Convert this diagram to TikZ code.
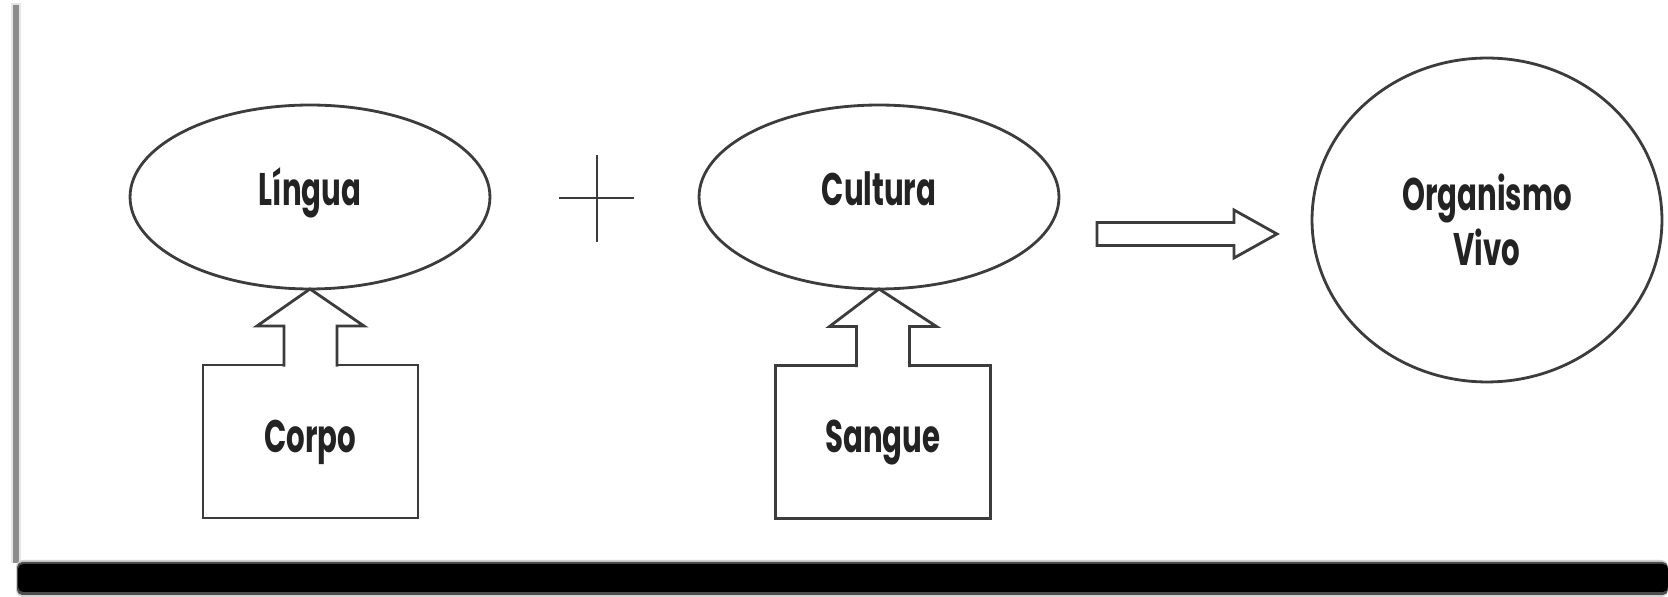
\documentclass[tikz,border=0pt]{standalone}
\usepackage{fontspec}
\newfontfamily\labelfont{Poppins}[FakeStretch=0.64]
\usetikzlibrary{shapes.geometric,calc}
\definecolor{linegray}{RGB}{60,60,60}
\definecolor{textgray}{RGB}{35,35,35}

\begin{document}
\begin{tikzpicture}[x=0.02cm, y=0.02cm,
  outline/.style={draw=linegray, line width=1.6pt},
  labeltext/.style={text=textgray, font=\labelfont\bfseries\fontsize{26}{31}\selectfont, inner sep=0pt, outer sep=0pt},
  oval/.style={outline, labeltext, ellipse, minimum width=7.2cm, minimum height=3.68cm, text height=18.7pt, text depth=8.5pt},
  circ/.style={outline, labeltext, ellipse, minimum width=7.0cm, minimum height=6.48cm, align=center},
  box/.style={outline, labeltext, rectangle, minimum width=4.3cm, minimum height=3.06cm, text height=18.7pt, text depth=6.2pt},
  blockarrow/.style={outline, fill=white, line join=miter},
  plusline/.style={draw=linegray, line width=1.2pt}]
\useasboundingbox (0,0) rectangle (1668,-597);

% frame
\draw[black!10, line width=6pt] (16,-3) -- (16,-563);
\draw[black!45, line width=3pt] (16,-5) -- (16,-563);
\fill[black!18, rounded corners=4pt] (16,-560) rectangle (1668,-597);
\fill[black!70, rounded corners=3pt] (17,-562) rectangle (1668,-595);
\fill[black, rounded corners=3pt] (18,-564) rectangle (1668,-592);

\node[oval] (lingua) at (310,-197) {Língua};
\node[oval] (cultura) at (879,-197) {Cultura};
\node[circ] (organismo) at (1487,-220) {Organismo\\Vivo};
\node[box] (corpo) at (310.5,-441.5) {Corpo};
\node[box] (sangue) at (883,-442) {Sangue};

% plus
\coordinate (plus) at (597,-198);
\draw[plusline] ($(plus)+(-38,0)$) -- ($(plus)+(37,0)$);
\draw[plusline] ($(plus)+(0,43)$) -- ($(plus)+(0,-44)$);

% up arrows
\foreach \from/\to in {corpo/lingua, sangue/cultura}
  \draw[blockarrow] ([shift={(-26.5,-1.5)}]\from.north) -- ++(0,40.5) -- ++(-27,0) -- (\to.south)
    -- ([shift={(53.5,39)}]\from.north) -- ++(-27,0) -- ++(0,-40.5);

% right arrow
\coordinate (tail) at (1097,-234);
\coordinate (tip) at (1277,-234);
\draw[blockarrow] ($(tail)+(0,11.5)$) -- ++(137,0) -- ++(0,12.5) -- (tip)
  -- ($(tail)+(137,-24)$) -- ++(0,12.5) -- ($(tail)+(0,-11.5)$) -- cycle;
\end{tikzpicture}
\end{document}
